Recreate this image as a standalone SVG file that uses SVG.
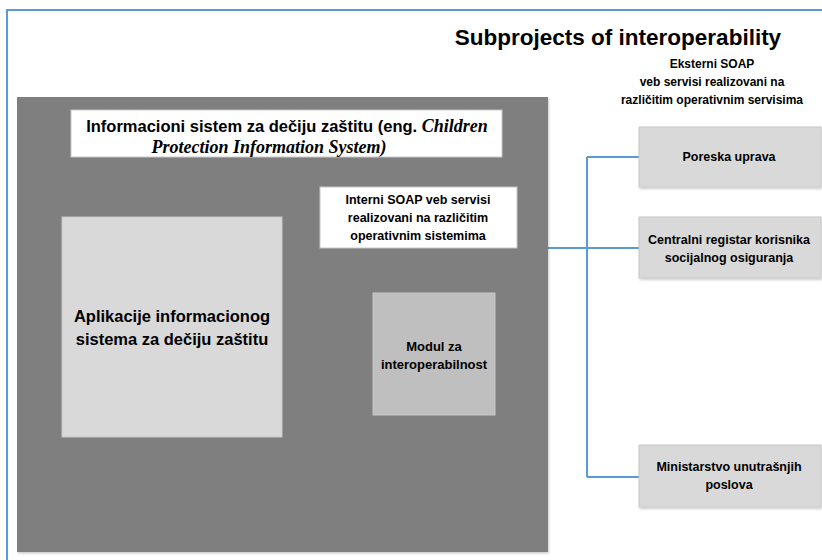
<svg xmlns="http://www.w3.org/2000/svg" width="822" height="560" viewBox="0 0 822 560">
<defs>
<style>
.t{font-family:"Liberation Sans",Arial,sans-serif;font-weight:bold;fill:#000;text-anchor:middle}
.ser{font-family:"Liberation Serif","Times New Roman",serif;font-style:italic;font-weight:bold}
.conn{stroke:#5b9bd5;stroke-width:2;fill:none}
.box{stroke:#c8c8c8;stroke-width:1}
</style>
<filter id="sh" x="-5%" y="-5%" width="115%" height="115%">
<feDropShadow dx="1" dy="1.5" stdDeviation="1" flood-color="#000" flood-opacity="0.2"/>
</filter>
</defs>
<rect width="822" height="560" fill="#fff"/>
<g id="frame">
<path d="M7,560 V10 H822" class="conn"/>
</g>
<g id="title">
<text class="t" x="618" y="45" font-size="22.5">Subprojects of interoperability</text>
</g>
<g id="eksterni">
<text class="t" x="712" y="68" font-size="12">Eksterni SOAP</text>
<text class="t" x="712" y="86" font-size="12">veb servisi realizovani na</text>
<text class="t" x="712" y="104" font-size="12">različitim operativnim servisima</text>
</g>
<g id="connectors">
<path class="conn" d="M548,248 H587"/>
<path class="conn" d="M587,157 V477"/>
<path class="conn" d="M587,157 H639"/>
<path class="conn" d="M587,248 H639"/>
<path class="conn" d="M587,477 H639"/>
</g>
<g id="cpis">
<rect x="17" y="97" width="531" height="455" fill="#7f7f7f" filter="url(#sh)"/>
</g>
<g id="cpis-title">
<rect x="71" y="110" width="431" height="47" fill="#fff" class="box"/>
<text class="t" x="287" y="132" font-size="16.5">Informacioni sistem za dečiju zaštitu (eng. <tspan class="ser" font-size="18">Children</tspan></text>
<text class="t ser" x="269" y="153" font-size="18">Protection Information System)</text>
</g>
<g id="interni">
<rect x="320" y="187" width="197" height="61" fill="#fff" class="box"/>
<text class="t" x="418" y="204" font-size="12.5">Interni SOAP veb servisi</text>
<text class="t" x="418" y="222" font-size="12.5">realizovani na različitim</text>
<text class="t" x="418" y="240" font-size="12.5">operativnim sistemima</text>
</g>
<g id="aplikacije">
<rect x="62" y="217" width="220" height="220" fill="#d9d9d9" class="box"/>
<text class="t" x="172" y="322" font-size="16.5">Aplikacije informacionog</text>
<text class="t" x="172" y="345" font-size="16.5">sistema za dečiju zaštitu</text>
</g>
<g id="modul">
<rect x="373" y="293" width="122" height="122" fill="#bfbfbf" class="box"/>
<text class="t" x="434" y="351" font-size="13">Modul za</text>
<text class="t" x="434" y="369" font-size="13">interoperabilnost</text>
</g>
<g id="poreska">
<rect x="639" y="127" width="182" height="60" fill="#d9d9d9" class="box" filter="url(#sh)"/>
<text class="t" x="729" y="161" font-size="12.5">Poreska uprava</text>
</g>
<g id="centralni">
<rect x="639" y="217" width="182" height="61" fill="#d9d9d9" class="box" filter="url(#sh)"/>
<text class="t" x="729" y="244" font-size="12.5">Centralni registar korisnika</text>
<text class="t" x="729" y="262" font-size="12.5">socijalnog osiguranja</text>
</g>
<g id="ministarstvo">
<rect x="639" y="445" width="182" height="62" fill="#d9d9d9" class="box" filter="url(#sh)"/>
<text class="t" x="729" y="471" font-size="12.5">Ministarstvo unutrašnjih</text>
<text class="t" x="729" y="489" font-size="12.5">poslova</text>
</g>
</svg>
